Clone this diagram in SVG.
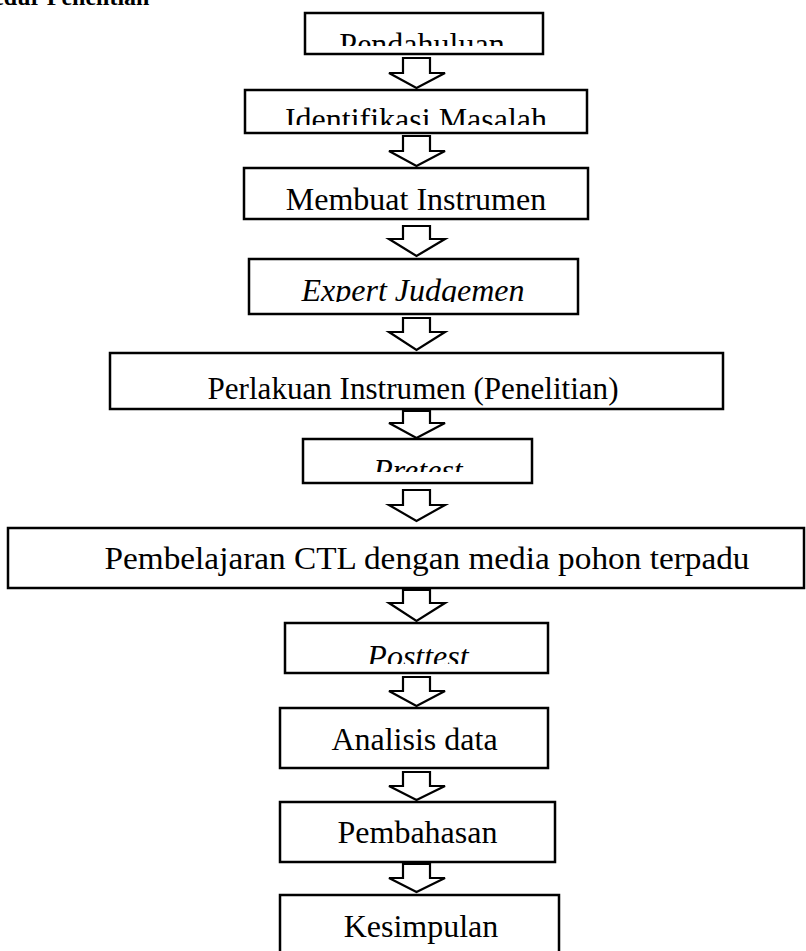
<svg xmlns="http://www.w3.org/2000/svg" width="806" height="951" viewBox="0 0 806 951">
<style>
.box{fill:#fff;stroke:#000;stroke-width:2.5}
.arr{fill:#fff;stroke:#000;stroke-width:2.2;stroke-linejoin:miter}
.t{font-family:"Liberation Serif","Times New Roman",serif;font-size:32px;fill:#000;text-anchor:middle}
.i{font-style:italic}
.title{font-family:"Liberation Serif","Times New Roman",serif;font-size:24px;font-weight:bold;fill:#000}
</style>
<defs>
<clipPath id="c1"><rect x="305" y="13" width="238" height="33"/></clipPath>
<clipPath id="c2"><rect x="245" y="90" width="342" height="35"/></clipPath>
<clipPath id="c3"><rect x="244" y="168" width="344" height="42"/></clipPath>
<clipPath id="c4"><rect x="249" y="259" width="329" height="43"/></clipPath>
<clipPath id="c6"><rect x="303" y="439" width="229" height="33"/></clipPath>
<clipPath id="c8"><rect x="285" y="623" width="263" height="41"/></clipPath>
</defs>
<rect width="806" height="951" fill="#fff"/>
<text class="title" x="-53" y="5">Prosedur Penelitian</text>
<g id="connectors">
<path class="arr" d="M403,58 H430 V73 H445 L416.5,88 L389,73 H403 Z"/>
<path class="arr" d="M403,136 H430 V151 H445 L416.5,166 L389,151 H403 Z"/>
<path class="arr" d="M403,226 H430 V239 H445 L416.5,256 L389,239 H403 Z"/>
<path class="arr" d="M403,318 H430 V332 H445 L416.5,350 L389,332 H403 Z"/>
<path class="arr" d="M403,411 H430 V423 H445 L416.5,438 L389,423 H403 Z"/>
<path class="arr" d="M403,490 H430 V505 H445 L416.5,521 L389,505 H403 Z"/>
<path class="arr" d="M403,590 H430 V603 H445 L416.5,621 L389,603 H403 Z"/>
<path class="arr" d="M403,677 H430 V691 H445 L416.5,706 L389,691 H403 Z"/>
<path class="arr" d="M403,772 H430 V786 H445 L416.5,800 L389,786 H403 Z"/>
<path class="arr" d="M403,864 H430 V878 H445 L416.5,892 L389,878 H403 Z"/>
</g>
<g id="n1"><rect class="box" x="305" y="13" width="238" height="41"/><text class="t" x="422" y="55" clip-path="url(#c1)">Pendahuluan</text></g>
<g id="n2"><rect class="box" x="245" y="90" width="342" height="43"/><text class="t" x="416" y="130" clip-path="url(#c2)">Identifikasi Masalah</text></g>
<g id="n3"><rect class="box" x="244" y="168" width="344" height="51"/><text class="t" x="416" y="210" clip-path="url(#c3)">Membuat Instrumen</text></g>
<g id="n4"><rect class="box" x="249" y="259" width="329" height="55"/><text class="t i" x="413" y="301" clip-path="url(#c4)">Expert Judgemen</text></g>
<g id="n5"><rect class="box" x="110" y="353" width="613" height="56"/><text class="t" x="413" y="399" font-size="36" textLength="411" lengthAdjust="spacingAndGlyphs">Perlakuan Instrumen (Penelitian)</text></g>
<g id="n6"><rect class="box" x="303" y="439" width="229" height="44"/><text class="t i" x="418" y="481" clip-path="url(#c6)">Pretest</text></g>
<g id="n7"><rect class="box" x="8" y="528" width="796" height="60"/><text class="t" x="427" y="569" font-size="38" textLength="645" lengthAdjust="spacingAndGlyphs">Pembelajaran CTL dengan media pohon terpadu</text></g>
<g id="n8"><rect class="box" x="285" y="623" width="263" height="50"/><text class="t i" x="418" y="667" clip-path="url(#c8)">Posttest</text></g>
<g id="n9"><rect class="box" x="280" y="708" width="268" height="60"/><text class="t" x="414.5" y="750">Analisis data</text></g>
<g id="n10"><rect class="box" x="280" y="802" width="275" height="60"/><text class="t" x="417.5" y="843">Pembahasan</text></g>
<g id="n11"><rect class="box" x="280" y="895" width="279" height="70"/><text class="t" x="421" y="937">Kesimpulan</text></g>
</svg>
